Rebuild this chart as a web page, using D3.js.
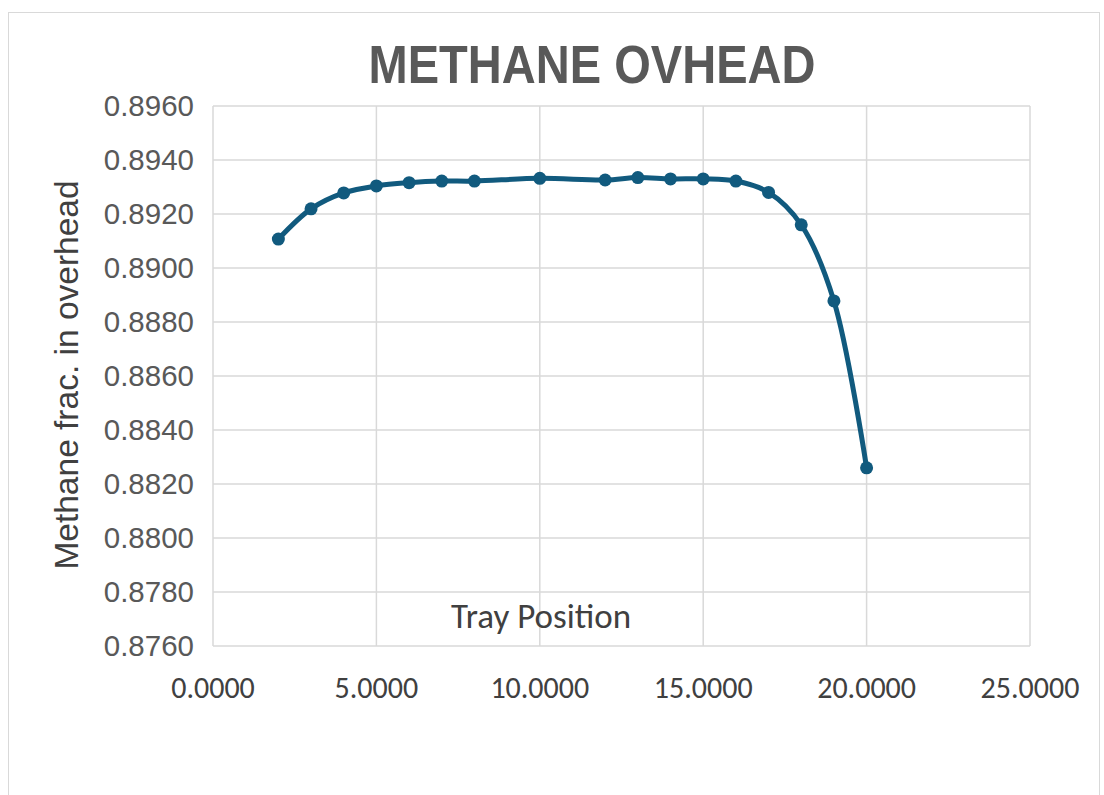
<!DOCTYPE html>
<html>
<head>
<meta charset="utf-8">
<script src="https://cdn.jsdelivr.net/npm/d3@7"></script>
<style>
  html, body { margin: 0; padding: 0; background: #ffffff; }
  svg { display: block; }
</style>
</head>
<body>
<svg id="chart" width="1104" height="795"></svg>
<script>
// Tray positions and methane mole fraction in the overhead
const trayPositions = [2, 3, 4, 5, 6, 7, 8, 10, 12, 13, 14, 15, 16, 17, 18, 19, 20];
const methaneFrac   = [0.89107, 0.89219, 0.89278, 0.89304, 0.89316, 0.89322, 0.89322, 0.89332,
                       0.89326, 0.89335, 0.89330, 0.89330, 0.89322, 0.89280, 0.89160, 0.88878, 0.88260];
const xTicks = [0, 5, 10, 15, 20, 25];
const yTicks = [0.8760, 0.8780, 0.8800, 0.8820, 0.8840, 0.8860, 0.8880, 0.8900, 0.8920, 0.8940, 0.8960];

const svg = d3.select("#chart");
const W = 1104, H = 795;
const plot = { left: 213, top: 106, right: 1030, bottom: 646 };

// chart frame
svg.append("rect")
  .attr("x", 8.5).attr("y", 12.5)
  .attr("width", 1091).attr("height", H)
  .attr("fill", "#ffffff").attr("stroke", "#d9d9d9").attr("stroke-width", 1);

const x = d3.scaleLinear().domain([0, 25]).range([plot.left, plot.right]);
const y = d3.scaleLinear().domain([0.876, 0.896]).range([plot.bottom, plot.top]);

// gridlines
const grid = svg.append("g").attr("stroke", "#d9d9d9").attr("stroke-width", 1.5);
grid.selectAll("line.h").data(yTicks).join("line")
  .attr("x1", plot.left).attr("x2", plot.right)
  .attr("y1", d => y(d)).attr("y2", d => y(d));
grid.selectAll("line.v").data(xTicks).join("line")
  .attr("y1", plot.top).attr("y2", plot.bottom)
  .attr("x1", d => x(d)).attr("x2", d => x(d));

// y tick labels
svg.append("g").selectAll("text").data(yTicks).join("text")
  .attr("x", 194).attr("y", d => y(d))
  .attr("dy", "0.35em")
  .attr("text-anchor", "end")
  .attr("font-family", "Liberation Sans, Arial, sans-serif")
  .attr("font-size", 29.5)
  .attr("fill", "#595959")
  .text(d => d3.format(".4f")(d));

// x tick labels
svg.append("g").selectAll("text").data(xTicks).join("text")
  .attr("x", d => x(d)).attr("y", 698)
  .attr("text-anchor", "middle")
  .attr("font-family", "Carlito, Lato, sans-serif")
  .attr("font-size", 30)
  .attr("fill", "#404040")
  .text(d => d3.format(".4f")(d));

// title
svg.append("text")
  .attr("x", 592).attr("y", 83)
  .attr("text-anchor", "middle")
  .attr("font-family", "Liberation Sans, Arial, sans-serif")
  .attr("font-weight", "bold")
  .attr("font-size", 54)
  .attr("textLength", 447)
  .attr("lengthAdjust", "spacingAndGlyphs")
  .attr("fill", "#595959")
  .text("METHANE OVHEAD");

// axis titles
svg.append("text")
  .attr("x", 541).attr("y", 628)
  .attr("text-anchor", "middle")
  .attr("font-family", "Carlito, Lato, sans-serif")
  .attr("font-size", 35)
  .attr("fill", "#404040")
  .text("Tray Position");

svg.append("text")
  .attr("transform", "translate(78,375) rotate(-90)")
  .attr("text-anchor", "middle")
  .attr("font-family", "Liberation Sans, Arial, sans-serif")
  .attr("font-size", 33.5)
  .attr("fill", "#404040")
  .text("Methane frac. in overhead");

// data series
const data = trayPositions.map((t, i) => ({ t, v: methaneFrac[i] }));
const lineColor = "#115a7e";

svg.append("path")
  .datum(data)
  .attr("fill", "none")
  .attr("stroke", lineColor)
  .attr("stroke-width", 5)
  .attr("stroke-linejoin", "round")
  .attr("d", d3.line().x(d => x(d.t)).y(d => y(d.v)).curve(d3.curveCatmullRom.alpha(0.5)));

svg.append("g").selectAll("circle").data(data).join("circle")
  .attr("cx", d => x(d.t)).attr("cy", d => y(d.v))
  .attr("r", 6.5)
  .attr("fill", lineColor);
</script>
</body>
</html>
